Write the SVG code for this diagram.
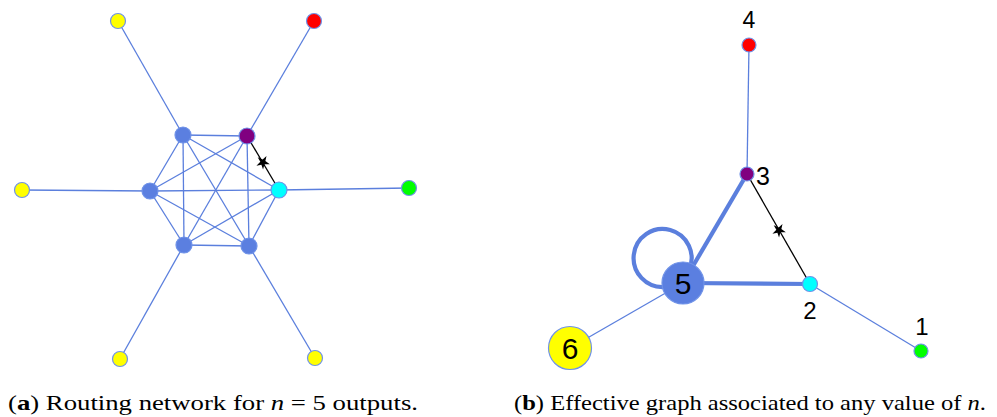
<svg xmlns="http://www.w3.org/2000/svg" width="997" height="417" viewBox="0 0 997 417">
  <style>
    .e { stroke: #5b7fdd; stroke-width: 1.3; fill: none; }
    .ew { stroke: #5b7fdd; stroke-width: 4.2; fill: none; }
    .ek { stroke: #000; stroke-width: 1.3; fill: none; }
    .n { stroke: #6f92e8; stroke-width: 1.2; }
    .blue { fill: #5b7fe0; }
    .purple { fill: #800080; }
    .cyan { fill: #00ffff; }
    .red { fill: #ff0000; }
    .yellow { fill: #ffff00; }
    .green { fill: #00ff00; }
    .lbl { font-family: "Liberation Sans", Arial, sans-serif; fill: #000; }
    .cap { font-family: "Liberation Serif", "Times New Roman", serif; font-size: 22px; fill: #000; }
  </style>
  <defs>
    <polygon id="star" points="0,-7 1.6,-2 7,-1.5 2.4,1.2 3.8,6.5 0,3.2 -3.8,6.5 -2.4,1.2 -7,-1.5 -1.6,-2" fill="#000"/>
  </defs>
  <rect width="997" height="417" fill="#fff"/>

  <!-- (a) routing network: connectors -->
  <g id="edges-a">
    <!-- spokes to outputs -->
    <line class="e" x1="183" y1="135" x2="118" y2="21"/>
    <line class="e" x1="247" y1="136" x2="314" y2="21"/>
    <line class="e" x1="150" y1="191" x2="22" y2="190"/>
    <line class="e" x1="279" y1="190" x2="409" y2="188"/>
    <line class="e" x1="184" y1="245" x2="120" y2="359"/>
    <line class="e" x1="249" y1="246" x2="315" y2="358"/>
    <!-- complete core -->
    <line class="e" x1="183" y1="135" x2="150" y2="191"/>
    <line class="e" x1="183" y1="135" x2="279" y2="190"/>
    <line class="e" x1="183" y1="135" x2="184" y2="245"/>
    <line class="e" x1="183" y1="135" x2="249" y2="246"/>
    <line class="e" x1="183" y1="135" x2="247" y2="136"/>
    <line class="e" x1="247" y1="136" x2="150" y2="191"/>
    <line class="e" x1="247" y1="136" x2="184" y2="245"/>
    <line class="e" x1="247" y1="136" x2="249" y2="246"/>
    <line class="e" x1="150" y1="191" x2="279" y2="190"/>
    <line class="e" x1="150" y1="191" x2="184" y2="245"/>
    <line class="e" x1="150" y1="191" x2="249" y2="246"/>
    <line class="e" x1="279" y1="190" x2="184" y2="245"/>
    <line class="e" x1="279" y1="190" x2="249" y2="246"/>
    <line class="e" x1="184" y1="245" x2="249" y2="246"/>
    <!-- marked link -->
    <line class="ek" x1="247" y1="136" x2="279" y2="190"/>
    <use href="#star" transform="translate(263,162) rotate(30)"/>
  </g>

  <!-- (a) nodes -->
  <g id="a-core-1"><circle class="n blue" cx="183" cy="135" r="8"/></g>
  <g id="a-core-2"><circle class="n purple" cx="247" cy="136" r="8"/></g>
  <g id="a-core-3"><circle class="n blue" cx="150" cy="191" r="8"/></g>
  <g id="a-core-4"><circle class="n cyan" cx="279" cy="190" r="8"/></g>
  <g id="a-core-5"><circle class="n blue" cx="184" cy="245" r="8"/></g>
  <g id="a-core-6"><circle class="n blue" cx="249" cy="246" r="8"/></g>
  <g id="a-out-1"><circle class="n yellow" cx="118" cy="21" r="7.5"/></g>
  <g id="a-out-2"><circle class="n red" cx="314" cy="21" r="7.5"/></g>
  <g id="a-out-3"><circle class="n yellow" cx="22" cy="190" r="7.5"/></g>
  <g id="a-out-4"><circle class="n green" cx="409" cy="188" r="7.5"/></g>
  <g id="a-out-5"><circle class="n yellow" cx="120" cy="359" r="7.5"/></g>
  <g id="a-out-6"><circle class="n yellow" cx="315" cy="358" r="7.5"/></g>

  <!-- (b) effective graph: connectors -->
  <g id="edges-b">
    <line class="e" x1="749" y1="45" x2="747" y2="174"/>
    <line class="e" x1="683" y1="283" x2="570" y2="348"/>
    <line class="e" x1="810" y1="284" x2="921" y2="351"/>
    <line class="ew" x1="683" y1="283" x2="747" y2="174"/>
    <line class="ew" x1="683" y1="283" x2="810" y2="284"/>
    <path class="ew" d="M 664 287 A 29 29 0 1 1 689 270"/>
    <line class="ek" x1="747" y1="174" x2="810" y2="284"/>
    <use href="#star" transform="translate(779,230) rotate(30)"/>
  </g>

  <!-- (b) nodes -->
  <g id="b-node-4">
    <circle class="n red" cx="749" cy="45" r="7"/>
    <text class="lbl" x="749" y="28" font-size="23" text-anchor="middle">4</text>
  </g>
  <g id="b-node-3">
    <circle class="n purple" cx="747" cy="174" r="7"/>
    <text class="lbl" x="756" y="185" font-size="25">3</text>
  </g>
  <g id="b-node-2">
    <circle class="n cyan" cx="810" cy="284" r="7.5"/>
    <text class="lbl" x="810" y="319" font-size="24" text-anchor="middle">2</text>
  </g>
  <g id="b-node-1">
    <circle class="n green" cx="921" cy="351" r="7"/>
    <text class="lbl" x="922" y="335" font-size="24" text-anchor="middle">1</text>
  </g>
  <g id="b-node-5">
    <circle class="n blue" cx="683" cy="283" r="21"/>
    <text class="lbl" x="683" y="294" font-size="30" text-anchor="middle">5</text>
  </g>
  <g id="b-node-6">
    <circle class="n yellow" cx="570" cy="348" r="21.5"/>
    <text class="lbl" x="570" y="359" font-size="30" text-anchor="middle">6</text>
  </g>

  <!-- captions -->
  <text class="cap" x="8" y="410" textLength="410" lengthAdjust="spacingAndGlyphs">(<tspan font-weight="bold">a</tspan>) Routing network for <tspan font-style="italic">n</tspan> = 5 outputs.</text>
  <text class="cap" x="514" y="410" textLength="472" lengthAdjust="spacingAndGlyphs">(<tspan font-weight="bold">b</tspan>) Effective graph associated to any value of <tspan font-style="italic">n</tspan>.</text>
</svg>
